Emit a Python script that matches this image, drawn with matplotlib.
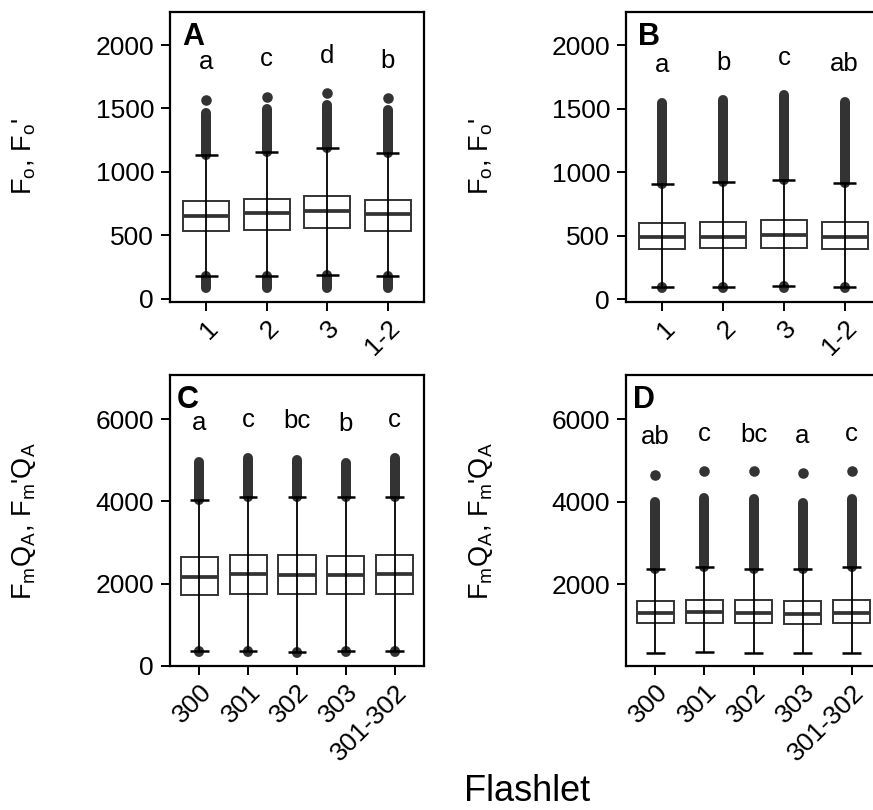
import matplotlib
matplotlib.use("Agg")
import matplotlib.pyplot as plt
import numpy as np

plt.rcParams["font.family"] = ["Liberation Sans", "DejaVu Sans"]
plt.rcParams["mathtext.default"] = "regular"

BOX_EDGE = "#333333"
OUTLIER_COLOUR = "#333333"

# ---- panel A: Fo, Fo' (flashlets) ----
A_CATS = ["1", "2", "3", "1-2"]
A_Q1 = [538, 543, 556, 538]
A_MED = [656, 675, 693, 667]
A_Q3 = [774, 790, 811, 780]
A_WLO = [181, 181, 187, 181]
A_WHI = [1134, 1160, 1186, 1147]
A_UP_HI = [1462, 1496, 1528, 1488]
A_UP_DOT = [1567, 1588, 1622, 1580]
A_LOW_LO = [84, 84, 84, 84]
A_LETTERS = ["a", "c", "d", "b"]
A_LETTER_Y = [1811, 1832, 1858, 1817]

# ---- panel B ----
B_CATS = ["1", "2", "3", "1-2"]
B_Q1 = [398, 405, 408, 398]
B_MED = [488, 494, 507, 490]
B_Q3 = [604, 612, 625, 606]
B_WLO = [100, 100, 104, 100]
B_WHI = [911, 923, 941, 918]
B_UP_HI = [1548, 1567, 1608, 1551]
B_UP_DOT = [None, None, None, None]
B_LOW_LO = [90, 90, 92, 90]
B_LETTERS = ["a", "b", "c", "ab"]
B_LETTER_Y = [1791, 1804, 1843, 1798]

# ---- panel C: FmQA, Fm'QA ----
C_CATS = ["300", "301", "302", "303", "301-302"]
C_Q1 = [1711, 1743, 1751, 1743, 1743]
C_MED = [2165, 2222, 2214, 2205, 2222]
C_Q3 = [2643, 2700, 2700, 2676, 2700]
C_WLO = [349, 349, 324, 365, 349]
C_WHI = [4038, 4111, 4111, 4111, 4111]
C_UP_HI = [4970, 5051, 5011, 4946, 5051]
C_UP_DOT = [None, None, None, None, None]
C_LOW_LO = [320, 320, 300, 330, 320]
C_LETTERS = ["a", "c", "bc", "b", "c"]
C_LETTER_Y = [5741, 5822, 5781, 5716, 5806]

# ---- panel D ----
D_CATS = ["300", "301", "302", "303", "301-302"]
D_Q1 = [1055, 1069, 1055, 1030, 1055]
D_MED = [1300, 1320, 1315, 1273, 1313]
D_Q3 = [1600, 1619, 1620, 1604, 1620]
D_WLO = [340, 351, 335, 335, 335]
D_WHI = [2375, 2412, 2380, 2380, 2412]
D_UP_HI = [4000, 4090, 4060, 3980, 4060]
D_UP_DOT = [4660, 4754, 4748, 4691, 4756]
D_LOW_LO = [None, None, None, None, None]
D_LETTERS = ["ab", "c", "bc", "a", "c"]
D_LETTER_Y = [5402, 5483, 5459, 5418, 5483]

W, H = 873, 810


def _axes_rect(left, right, top, bottom):
    return [left / W, (H - bottom) / H, (right - left) / W, (bottom - top) / H]


def draw_panel(ax, cats, q1, med, q3, wlo, whi, up_hi, up_dot, low_lo,
               letters, letter_y, ylim, yticks, tag, tag_dx):
    x = np.arange(1, len(cats) + 1)
    box_w = 0.76
    cap_w = 0.38

    for i, xi in enumerate(x):
        # outliers: dense runs drawn as a thick rounded stroke
        ax.plot([xi, xi], [whi[i], up_hi[i]], color=OUTLIER_COLOUR,
                linewidth=7.2, solid_capstyle="round", zorder=1)
        if up_dot[i] is not None:
            ax.plot([xi], [up_dot[i]], "o", color=OUTLIER_COLOUR,
                    markersize=7.6, markeredgewidth=0, zorder=1)
        if low_lo[i] is not None:
            ax.plot([xi, xi], [low_lo[i], wlo[i]], color=OUTLIER_COLOUR,
                    linewidth=7.2, solid_capstyle="round", zorder=1)

        rect = plt.Rectangle((xi - box_w / 2, q1[i]), box_w, q3[i] - q1[i],
                             facecolor="white", edgecolor=BOX_EDGE,
                             linewidth=1.4, zorder=2)
        ax.add_patch(rect)
        ax.plot([xi - box_w / 2, xi + box_w / 2], [med[i], med[i]],
                color=BOX_EDGE, linewidth=2.7, solid_capstyle="butt", zorder=3)

        ax.plot([xi, xi], [wlo[i], whi[i]], color="black", linewidth=1.3,
                zorder=4)
        for yv in (wlo[i], whi[i]):
            ax.plot([xi - cap_w / 2, xi + cap_w / 2], [yv, yv], color="black",
                    linewidth=1.8, solid_capstyle="butt", zorder=4)

        ax.text(xi, letter_y[i], letters[i], ha="center", va="baseline",
                fontsize=18.5, color="black")

    ax.set_xlim(0.4, len(cats) + 0.6)
    ax.set_ylim(*ylim)
    ax.set_xticks(x)
    ax.set_xticklabels(cats, rotation=45, ha="right", va="top",
                       rotation_mode="anchor")
    ax.set_yticks(yticks)
    ax.set_yticklabels([str(t) for t in yticks])
    ax.tick_params(axis="both", direction="out", length=6.5, width=1.4,
                   labelsize=19, colors="black", pad=5)
    ax.tick_params(axis="x", pad=3.5)

    for spine in ax.spines.values():
        spine.set_linewidth(1.6)
        spine.set_color("black")

    ax.text(tag_dx, 0.885, tag, transform=ax.transAxes, ha="left",
            va="baseline", fontsize=22, fontweight="bold")


fig = plt.figure(figsize=(W / 100, H / 100), dpi=100)

ax_a = fig.add_axes(_axes_rect(170, 424, 12, 302))
ax_b = fig.add_axes(_axes_rect(626, 881, 12, 302))
ax_c = fig.add_axes(_axes_rect(170, 424, 375, 666))
ax_d = fig.add_axes(_axes_rect(626, 881, 375, 666))

top_ticks = [0, 500, 1000, 1500, 2000]

draw_panel(ax_a, A_CATS, A_Q1, A_MED, A_Q3, A_WLO, A_WHI, A_UP_HI, A_UP_DOT,
           A_LOW_LO, A_LETTERS, A_LETTER_Y, (-24, 2260), top_ticks, "A",
           12 / 254)
draw_panel(ax_b, B_CATS, B_Q1, B_MED, B_Q3, B_WLO, B_WHI, B_UP_HI, B_UP_DOT,
           B_LOW_LO, B_LETTERS, B_LETTER_Y, (-20, 2260), top_ticks, "B",
           12 / 255)
draw_panel(ax_c, C_CATS, C_Q1, C_MED, C_Q3, C_WLO, C_WHI, C_UP_HI, C_UP_DOT,
           C_LOW_LO, C_LETTERS, C_LETTER_Y, (-10, 7080), [0, 2000, 4000, 6000],
           "C", 7 / 254)
draw_panel(ax_d, D_CATS, D_Q1, D_MED, D_Q3, D_WLO, D_WHI, D_UP_HI, D_UP_DOT,
           D_LOW_LO, D_LETTERS, D_LETTER_Y, (20, 7075), [2000, 4000, 6000],
           "D", 7 / 255)

fo_label = r"F$_o$, F$_o$'"
fm_label = r"F$_m$Q$_A$, F$_m$'Q$_A$"

fig.text(24 / W, 1 - 157 / H, fo_label, rotation=90, ha="center",
         va="center", fontsize=19.5)
fig.text(481 / W, 1 - 157 / H, fo_label, rotation=90, ha="center",
         va="center", fontsize=19.5)
fig.text(24 / W, 1 - 521 / H, fm_label, rotation=90, ha="center",
         va="center", fontsize=19.5)
fig.text(481 / W, 1 - 521 / H, fm_label, rotation=90, ha="center",
         va="center", fontsize=19.5)

fig.text(527 / W, 1 - 801 / H, "Flashlet", ha="center", va="baseline",
         fontsize=26)

fig.savefig("out.png", dpi=100, facecolor="white")
